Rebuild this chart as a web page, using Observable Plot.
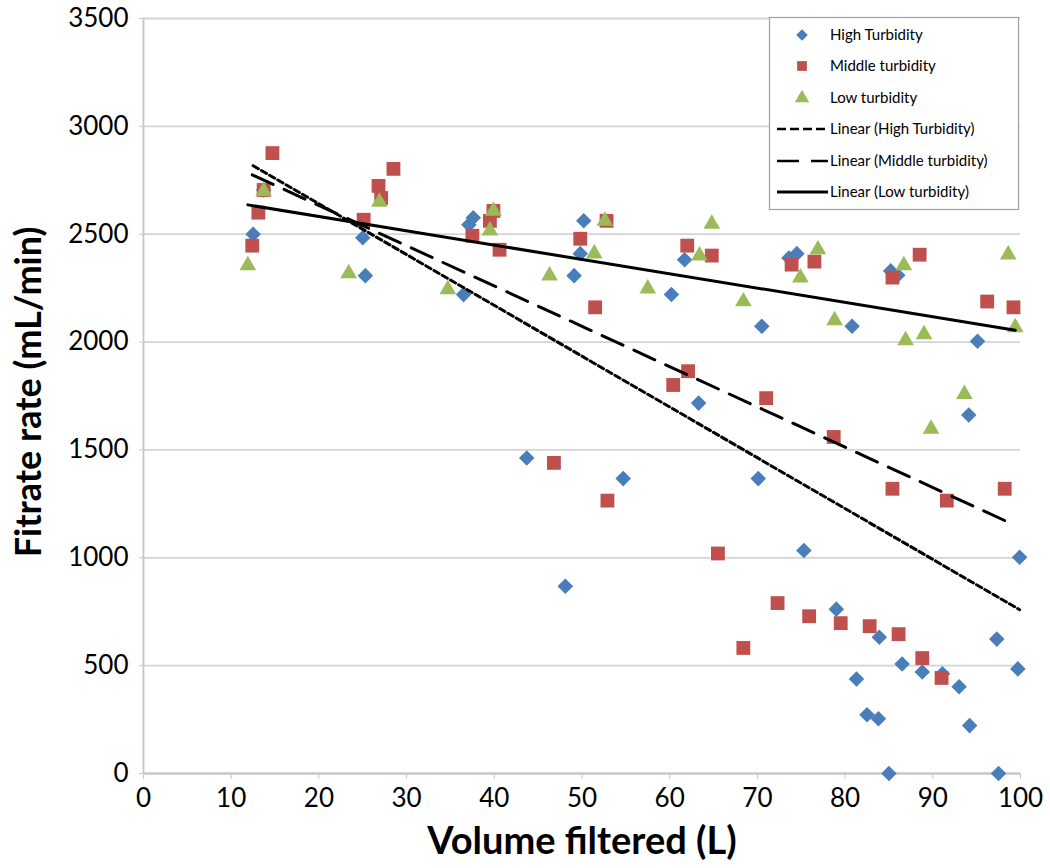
<!DOCTYPE html>
<html><head><meta charset="utf-8">
<script src="https://cdn.jsdelivr.net/npm/d3@7"></script>
<script src="https://cdn.jsdelivr.net/npm/@observablehq/plot@0.6"></script>
<style>body{margin:0;background:#fff;}</style>
</head><body><div id="chart"></div>
<script>
// ---- data ----
const seriesNames = ["High Turbidity", "Middle turbidity", "Low turbidity"];
const trendNames = ["Linear (High Turbidity)", "Linear (Middle turbidity)", "Linear (Low turbidity)"];
const seriesColors = ["#4a7ebb", "#c0504d", "#9bbb59"];

const highX = [12.5, 13.7, 25.0, 25.3, 36.5, 37.6, 37.1, 43.7, 48.1, 49.1, 49.8, 50.2, 54.7, 60.2, 61.7, 63.3, 70.1, 70.5, 73.6, 74.5, 75.3, 79.0, 80.8, 81.3, 82.5, 83.8, 83.9, 85.0, 85.2, 86.0, 86.5, 88.8, 91.1, 93.0, 94.1, 94.2, 95.1, 97.3, 97.5, 99.7, 99.9];
const highY = [2500, 2705, 2484, 2308, 2220, 2576, 2544, 1463, 868, 2308, 2410, 2562, 1367, 2221, 2382, 1717, 1367, 2073, 2390, 2410, 1034, 762, 2073, 438, 272, 254, 632, 0, 2330, 2310, 508, 471, 462, 402, 1662, 222, 2004, 623, 0, 485, 1002];

const middleX = [12.4, 13.1, 13.7, 14.7, 25.1, 26.8, 27.1, 28.5, 37.5, 39.5, 39.9, 40.6, 46.8, 49.8, 51.5, 52.8, 52.9, 60.4, 62.0, 62.1, 64.8, 65.5, 68.4, 71.0, 72.3, 73.9, 75.9, 76.5, 78.7, 79.5, 82.8, 85.4, 85.4, 86.1, 88.5, 88.8, 91.0, 91.6, 96.2, 98.2, 99.2];
const middleY = [2447, 2600, 2705, 2876, 2567, 2724, 2668, 2803, 2493, 2562, 2608, 2428, 1440, 2479, 2161, 2562, 1265, 1801, 2447, 1865, 2401, 1020, 582, 1740, 790, 2359, 729, 2373, 1560, 697, 683, 2299, 1320, 646, 2405, 535, 443, 1265, 2188, 1320, 2161];

const lowX = [11.9, 13.7, 23.4, 26.9, 34.7, 39.5, 39.9, 46.3, 51.4, 52.6, 57.5, 63.4, 64.8, 68.4, 74.9, 76.9, 78.8, 86.7, 86.9, 89.0, 89.8, 93.6, 98.6, 99.4];
const lowY = [2355, 2700, 2318, 2650, 2244, 2516, 2608, 2308, 2410, 2562, 2248, 2401, 2548, 2188, 2299, 2429, 2100, 2355, 2008, 2036, 1597, 1759, 2405, 2068];

// linear trend coefficients (slope, intercept) as drawn in the reference
const trendSlope = [-23.55, -18.68, -6.64];
const trendIntercept = [3112, 3007, 2715];

const xTicks = [0, 10, 20, 30, 40, 50, 60, 70, 80, 90, 100];
const yTicks = [0, 500, 1000, 1500, 2000, 2500, 3000, 3500];
const xTitle = "Volume filtered (L)";
const yTitle = "Fitrate rate (mL/min)";

// ---- build tables ----
const toRows = (xs, ys) => xs.map((x, i) => ({x, y: ys[i]}));
const high = toRows(highX, highY);
const middle = toRows(middleX, middleY);
const low = toRows(lowX, lowY);
const allXs = [highX, middleX, lowX];
const trendRows = (k) => {
  const [a, b] = d3.extent(allXs[k]);
  return [a, b].map(x => ({x, y: trendIntercept[k] + trendSlope[k] * x}));
};

const gray = "#c6c6c6";
const font = "Lato, 'Open Sans', sans-serif";
const symbols = ["diamond2", "square", "triangle"];
const radii = [7.0, 7.8, 6.2];
const dashes = ["6,3.5", "23,12", null];

const chart = Plot.plot({
  width: 1050, height: 868,
  marginLeft: 143, marginRight: 30, marginTop: 18, marginBottom: 95,
  x: {domain: [0, 100]},
  y: {domain: [0, 3500]},
  style: {fontFamily: font, fontSize: "26px", color: "#000", background: "#fff"},
  marks: [
    Plot.gridY(yTicks, {stroke: "#d4d4d4", strokeOpacity: 1, strokeWidth: 1.8}),
    Plot.ruleX([0], {stroke: gray, strokeWidth: 1.8}),
    Plot.ruleY([0], {stroke: gray, strokeWidth: 1.8}),
    Plot.axisY({ticks: yTicks, tickSize: 4, tickPadding: 11, stroke: gray, label: null, tickFormat: d => String(d)}),
    Plot.axisX({ticks: xTicks, tickSize: 6, tickPadding: 9, stroke: gray, label: null, tickFormat: d => String(d)}),
    Plot.dot(high, {x: "x", y: "y", symbol: symbols[0], r: radii[0], fill: seriesColors[0], stroke: "none"}),
    Plot.dot(middle, {x: "x", y: "y", symbol: symbols[1], r: radii[1], fill: seriesColors[1], stroke: "none"}),
    Plot.dot(low, {x: "x", y: "y", symbol: symbols[2], r: radii[2], fill: seriesColors[2], stroke: "none"}),
    Plot.line(trendRows(0), {x: "x", y: "y", stroke: "#000", strokeWidth: 3, strokeDasharray: dashes[0]}),
    Plot.line(trendRows(1), {x: "x", y: "y", stroke: "#000", strokeWidth: 3, strokeDasharray: dashes[1]}),
    Plot.line(trendRows(2), {x: "x", y: "y", stroke: "#000", strokeWidth: 3}),
    Plot.text([xTitle], {frameAnchor: "bottom", lineAnchor: "middle", textAnchor: "middle", dy: 68, fontSize: 38, fontWeight: "bold"}),
    Plot.text([yTitle], {frameAnchor: "left", lineAnchor: "middle", textAnchor: "middle", rotate: -90, dx: -114, dy: -4, fontSize: 36, fontWeight: "bold"})
  ]
});
document.getElementById("chart").appendChild(chart);

// ---- legend (inside plot, top right) ----
const svg = d3.select(chart);
const lg = svg.append("g").attr("font-family", font).attr("font-size", 15).attr("text-anchor", "start");
lg.append("rect").attr("x", 769.5).attr("y", 17.5).attr("width", 249).attr("height", 192)
  .attr("fill", "#fff").attr("stroke", "#a0a0a0").attr("stroke-width", 1.2);
const rowY = [35, 66, 98, 129, 161, 192];
const symTypes = [d3.symbolDiamond2, d3.symbolSquare, d3.symbolTriangle];
const symSizes = [85, 95, 90];
seriesNames.forEach((name, i) => {
  lg.append("path").attr("d", d3.symbol(symTypes[i], symSizes[i])())
    .attr("transform", `translate(802,${rowY[i]})`).attr("fill", seriesColors[i]);
  lg.append("text").attr("x", 830).attr("y", rowY[i]).attr("dy", "0.35em").attr("text-anchor", "start").text(name);
});
trendNames.forEach((name, i) => {
  const y = rowY[i + 3];
  const ln = lg.append("line").attr("x1", 777).attr("x2", 828).attr("y1", y).attr("y2", y)
    .attr("stroke", "#000").attr("stroke-width", i === 2 ? 3 : 2.5);
  if (i === 0) ln.attr("stroke-dasharray", "9,4");
  if (i === 1) ln.attr("stroke-dasharray", "22,12");
  lg.append("text").attr("x", 830).attr("y", y).attr("dy", "0.35em").attr("text-anchor", "start").text(name);
});
</script></body></html>
